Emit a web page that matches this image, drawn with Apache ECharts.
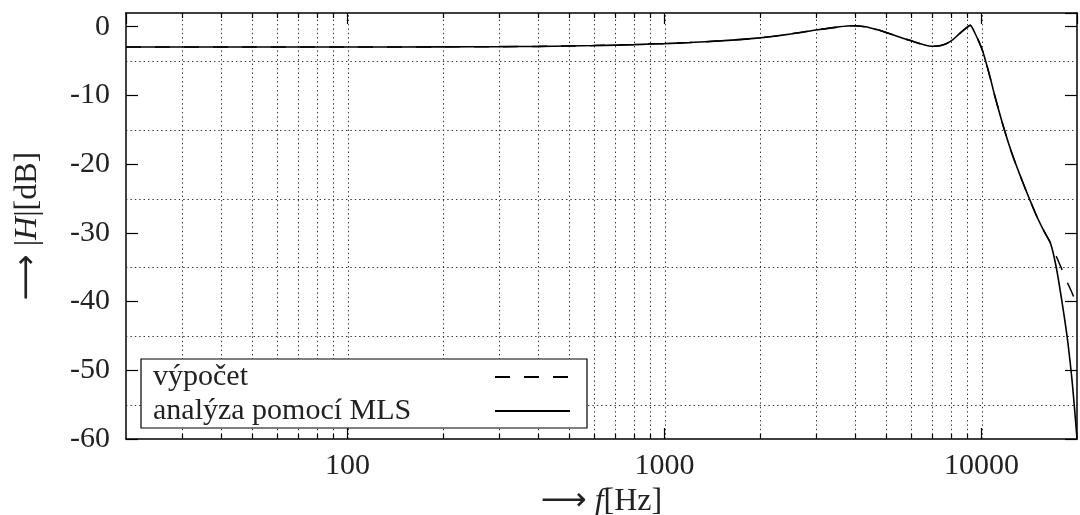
<!DOCTYPE html>
<html><head><meta charset="utf-8">
<script src="https://cdn.jsdelivr.net/npm/echarts@6/dist/echarts.min.js"></script>
<style>html,body{margin:0;padding:0;background:#fff}#c{width:1080px;height:515px}</style>
</head><body><div id="c"></div>
<script>
// ---- data ----
const freqHz = [20,50,100,200,300,400,500,600,700,800,900,1000,1200,1500,2000,2500,3000,3500,3900,4300,4700,5000,5500,6000,6500,7000,7500,8000,8500,9000,9200,9500,10000,10300,10700,11000,11800,12500,13400,14200,15000,15800,16500,17200,18000,18600,19200,19600,20000];
const mlsDb = [-2.95,-2.95,-2.95,-2.93,-2.9,-2.86,-2.8,-2.74,-2.67,-2.6,-2.52,-2.45,-2.3,-2.05,-1.62,-1.05,-0.48,-0.05,0.15,0.0,-0.45,-0.85,-1.5,-2.05,-2.55,-2.85,-2.7,-2.1,-1.05,-0.1,0.2,-0.8,-3.1,-5.0,-7.8,-10.0,-15.0,-18.6,-22.3,-25.2,-27.8,-29.9,-31.5,-35.0,-40.5,-45.0,-50.5,-55.0,-60.0];
const calcDb = [-2.95,-2.95,-2.95,-2.93,-2.9,-2.86,-2.8,-2.74,-2.67,-2.6,-2.52,-2.45,-2.3,-2.05,-1.62,-1.05,-0.48,-0.05,0.15,0.0,-0.45,-0.85,-1.5,-2.05,-2.55,-2.85,-2.7,-2.1,-1.05,-0.1,0.2,-0.8,-3.1,-5.0,-7.8,-10.0,-15.0,-18.6,-22.3,-25.2,-27.8,-29.9,-31.5,-33.4,-35.5,-37.1,-38.5,-39.5,-40.4];
const seriesNames = ['výpočet', 'analýza pomocí MLS'];
const xGridHz = [30,40,50,60,70,80,90,100,200,300,400,500,600,700,800,900,1000,2000,3000,4000,5000,6000,7000,8000,9000,10000];
const xMinorTickHz = [30,40,50,60,70,80,90,200,300,400,500,600,700,800,900,2000,3000,4000,5000,6000,7000,8000,9000];
const yGridDb = [-5,-15,-25,-35,-45,-55];
const xMin = 20, xMax = 20000, yMin = -60, yMax = 2, yStep = 10;

const FONT = 'Liberation Serif';
const TXT = '#222';
const chart = echarts.init(document.getElementById('c'), null, {renderer: 'canvas'});

function decadeLabel(v) {
  const l = Math.log10(v);
  if (Math.abs(l - Math.round(l)) < 1e-6 && v >= 90 && v <= 11000) return String(Math.round(v));
  return '';
}
const dotted = {stroke: '#333', lineWidth: 1, lineDash: [1.4, 3]};

function renderXGrid(params, api) {
  const f = api.value(0);
  const b = api.coord([f, yMin]);
  const t = api.coord([f, yMax]);
  const x = Math.round(b[0]) + 0.5;
  const ch = [{type: 'line', shape: {x1: x, y1: b[1], x2: x, y2: t[1]}, style: dotted}];
  if (xMinorTickHz.indexOf(f) >= 0) {
    ch.push({type: 'line', shape: {x1: x, y1: b[1], x2: x, y2: b[1] - 5}, style: {stroke: '#000', lineWidth: 1.2}});
    ch.push({type: 'line', shape: {x1: x, y1: t[1], x2: x, y2: t[1] + 5}, style: {stroke: '#000', lineWidth: 1.2}});
  }
  return {type: 'group', children: ch};
}
function renderYGrid(params, api) {
  const v = api.value(1);
  const l = api.coord([xMin, v]);
  const r = api.coord([xMax, v]);
  const y = Math.round(l[1]) + 0.5;
  return {type: 'line', shape: {x1: l[0], y1: y, x2: r[0], y2: y}, style: dotted};
}

const axisCommonX = {
  type: 'log', logBase: 10, min: xMin, max: xMax,
  axisLine: {onZero: false, lineStyle: {color: '#000', width: 1.5}},
  axisTick: {inside: true, length: 11, lineStyle: {color: '#000', width: 1.2}},
  splitLine: {show: false}, minorTick: {show: false}
};
const axisCommonY = {
  type: 'value', min: yMin, max: yMax, interval: yStep,
  axisLine: {show: true, onZero: false, lineStyle: {color: '#000', width: 1.5}},
  axisTick: {show: true, inside: true, length: 12, lineStyle: {color: '#000', width: 1.2}},
  splitLine: {show: false}
};
const nameRich = {
  a: {fontFamily: 'DejaVu Sans', fontSize: 32, color: TXT},
  i: {fontFamily: FONT, fontStyle: 'italic', fontSize: 32, color: TXT}
};

chart.setOption({
  animation: false,
  backgroundColor: '#fff',
  grid: {left: 126, right: 3, top: 13, bottom: 76, containLabel: false, outerBoundsMode: 'none'},
  xAxis: [
    Object.assign({}, axisCommonX, {
      position: 'bottom',
      axisLabel: {formatter: decadeLabel, fontFamily: FONT, fontSize: 30, color: TXT, margin: 12, showMinLabel: false, showMaxLabel: false},
      name: '{a|⟶} {i|f}[Hz]', nameLocation: 'middle', nameGap: 40,
      nameTextStyle: {fontFamily: FONT, fontSize: 32, color: TXT, rich: nameRich}
    }),
    Object.assign({}, axisCommonX, {position: 'top', axisLabel: {show: false}})
  ],
  yAxis: [
    Object.assign({}, axisCommonY, {
      position: 'left',
      axisLabel: {fontFamily: FONT, fontSize: 30, color: TXT, margin: 16, showMaxLabel: false},
      name: '{a|⟶} |{i|H}|[dB]', nameLocation: 'middle', nameGap: 82, nameRotate: 90,
      nameTextStyle: {fontFamily: FONT, fontSize: 32, color: TXT, rich: nameRich}
    }),
    Object.assign({}, axisCommonY, {position: 'right', axisLabel: {show: false}})
  ],
  legend: {
    data: seriesNames,
    orient: 'vertical', left: 141, top: 359, align: 'right',
    itemWidth: 75, itemHeight: 14, itemGap: 0,
    padding: [1, 16, 0, 12],
    backgroundColor: '#fff', borderColor: '#000', borderWidth: 1.2, borderRadius: 0,
    selectedMode: false,
    itemStyle: {opacity: 0, borderWidth: 0},
    formatter: function (n) { return '{t|' + n + '}'; },
    textStyle: {color: TXT, fontFamily: FONT, fontSize: 30, lineHeight: 34,
      rich: {t: {width: 337, align: 'left', fontFamily: FONT, fontSize: 30, lineHeight: 34, color: TXT}}}
  },
  series: [
    {type: 'custom', name: 'xgrid', silent: true, z: 1, renderItem: renderXGrid,
     data: xGridHz.map(f => [f, yMin]), encode: {x: 0, y: 1}},
    {type: 'custom', name: 'ygrid', silent: true, z: 1, renderItem: renderYGrid,
     data: yGridDb.map(v => [xMin, v]), encode: {x: 0, y: 1}},
    {type: 'line', name: seriesNames[0], z: 3, symbol: 'none', showSymbol: false, smooth: 0.3,
     data: freqHz.map((f, i) => [f, calcDb[i]]),
     lineStyle: {color: '#000', width: 1.5, type: [15, 14]}, itemStyle: {color: '#000'}},
    {type: 'line', name: seriesNames[1], z: 4, symbol: 'none', showSymbol: false, smooth: 0.3,
     data: freqHz.map((f, i) => [f, mlsDb[i]]),
     lineStyle: {color: '#000', width: 1.6, type: 'solid'}, itemStyle: {color: '#000'}}
  ]
});
</script></body></html>
